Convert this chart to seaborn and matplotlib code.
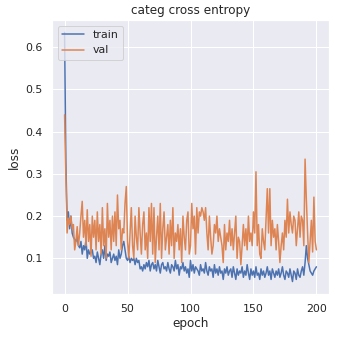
import numpy as np
import pandas as pd
import matplotlib
matplotlib.use("Agg")
import matplotlib.pyplot as plt
import seaborn as sns

train = [
    0.635, 0.33, 0.19, 0.21, 0.17, 0.20, 0.16, 0.15, 0.145, 0.14,
    0.15, 0.13, 0.125, 0.14, 0.11, 0.13, 0.12, 0.145, 0.10, 0.12,
    0.11, 0.115, 0.12, 0.10, 0.105, 0.09, 0.115, 0.10, 0.085, 0.11,
    0.12, 0.10, 0.13, 0.095, 0.11, 0.105, 0.115, 0.09, 0.10, 0.11,
    0.095, 0.105, 0.085, 0.12, 0.10, 0.11, 0.13, 0.14, 0.12, 0.10,
    0.095, 0.105, 0.09, 0.10, 0.095, 0.10, 0.085, 0.10, 0.09, 0.095,
    0.075, 0.08, 0.07, 0.085, 0.075, 0.09, 0.08, 0.095, 0.07, 0.085,
    0.09, 0.075, 0.085, 0.07, 0.095, 0.08, 0.065, 0.085, 0.09, 0.075,
    0.08, 0.07, 0.09, 0.075, 0.065, 0.085, 0.08, 0.07, 0.095, 0.075,
    0.085, 0.06, 0.08, 0.075, 0.09, 0.07, 0.08, 0.065, 0.075, 0.055,
    0.095, 0.07, 0.085, 0.065, 0.08, 0.075, 0.07, 0.06, 0.085, 0.07,
    0.075, 0.065, 0.09, 0.07, 0.06, 0.08, 0.07, 0.075, 0.055, 0.085,
    0.065, 0.075, 0.06, 0.08, 0.065, 0.07, 0.05, 0.075, 0.065, 0.08,
    0.06, 0.07, 0.075, 0.055, 0.08, 0.065, 0.05, 0.075, 0.06, 0.07,
    0.065, 0.08, 0.055, 0.07, 0.06, 0.085, 0.065, 0.05, 0.075, 0.06,
    0.07, 0.055, 0.08, 0.06, 0.065, 0.05, 0.075, 0.06, 0.07, 0.055,
    0.065, 0.08, 0.06, 0.07, 0.05, 0.075, 0.065, 0.055, 0.07, 0.06,
    0.075, 0.055, 0.065, 0.08, 0.06, 0.05, 0.07, 0.065, 0.055, 0.075,
    0.06, 0.045, 0.07, 0.065, 0.05, 0.075, 0.06, 0.055, 0.07, 0.08,
    0.06, 0.09, 0.13, 0.10, 0.085, 0.07, 0.065, 0.06, 0.07, 0.075,
    0.08,
]

val = [
    0.44, 0.30, 0.16, 0.195, 0.18, 0.20, 0.17, 0.18, 0.12, 0.14,
    0.175, 0.13, 0.16, 0.20, 0.235, 0.15, 0.19, 0.13, 0.215, 0.14,
    0.18, 0.105, 0.20, 0.15, 0.19, 0.12, 0.21, 0.14, 0.18, 0.11,
    0.22, 0.13, 0.17, 0.10, 0.23, 0.15, 0.19, 0.12, 0.20, 0.14,
    0.21, 0.13, 0.25, 0.17, 0.19, 0.12, 0.17, 0.16, 0.23, 0.27,
    0.14, 0.10, 0.16, 0.22, 0.13, 0.10, 0.20, 0.15, 0.12, 0.22,
    0.16, 0.11, 0.18, 0.21, 0.12, 0.16, 0.10, 0.22, 0.14, 0.23,
    0.11, 0.22, 0.09, 0.15, 0.20, 0.12, 0.23, 0.10, 0.17, 0.21,
    0.12, 0.15, 0.18, 0.11, 0.19, 0.13, 0.22, 0.10, 0.16, 0.14,
    0.18, 0.12, 0.17, 0.09, 0.20, 0.15, 0.12, 0.19, 0.21, 0.11,
    0.13, 0.23, 0.17, 0.20, 0.11, 0.22, 0.16, 0.21, 0.20, 0.22,
    0.21, 0.19, 0.22, 0.16, 0.12, 0.20, 0.15, 0.11, 0.13, 0.18,
    0.16, 0.20, 0.14, 0.17, 0.15, 0.13, 0.09, 0.18, 0.12, 0.16,
    0.14, 0.19, 0.13, 0.17, 0.12, 0.16, 0.20, 0.10, 0.15, 0.14,
    0.085, 0.13, 0.18, 0.13, 0.17, 0.12, 0.20, 0.14, 0.16, 0.13,
    0.21, 0.16, 0.305, 0.13, 0.18, 0.11, 0.10, 0.17, 0.14, 0.12,
    0.19, 0.265, 0.16, 0.265, 0.13, 0.19, 0.15, 0.17, 0.12, 0.18,
    0.14, 0.09, 0.13, 0.16, 0.12, 0.19, 0.15, 0.24, 0.16, 0.21,
    0.18, 0.16, 0.20, 0.19, 0.13, 0.17, 0.21, 0.15, 0.20, 0.19,
    0.13, 0.335, 0.24, 0.16, 0.09, 0.14, 0.19, 0.115, 0.245, 0.14,
    0.12,
]

series_names = ["train", "val"]
epochs = np.arange(len(train))

df = pd.DataFrame({
    "epoch": np.concatenate([epochs, epochs]),
    "loss": np.concatenate([train, val]),
    "series": [series_names[0]] * len(train) + [series_names[1]] * len(val),
})

sns.set_theme(style="darkgrid")

fig = plt.figure(figsize=(337 / 72, 338 / 72), dpi=72)
ax = fig.add_axes([52 / 337, 44 / 338, (329 - 52) / 337, (294 - 20) / 338])
sns.lineplot(data=df, x="epoch", y="loss", hue="series", ax=ax, linewidth=1.5)
ax.set_title("categ cross entropy")
ax.set_xlabel("epoch")
ax.set_ylabel("loss")
ax.legend(loc="upper left", title=None)
fig.savefig("out.png", dpi=72)
